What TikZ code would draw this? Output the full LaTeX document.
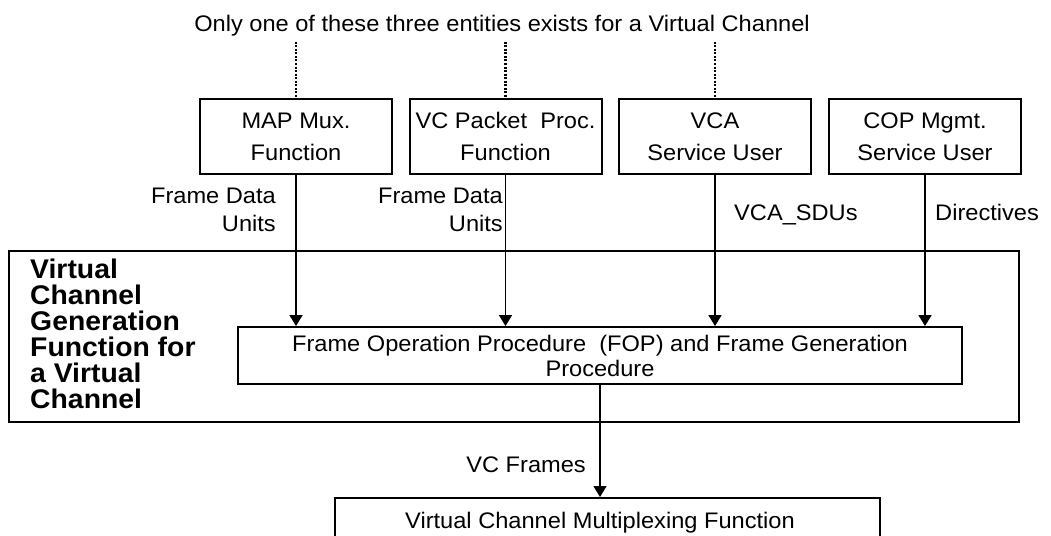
\documentclass[tikz,border=0pt]{standalone}
\usepackage{fontspec}
\setmainfont{Liberation Sans}[FakeStretch=1.05]
\usetikzlibrary{arrows.meta}
\begin{document}
\begin{tikzpicture}[x=1pt,y=-1pt,
  every node/.style={font=\fontsize{22.5}{32}\selectfont, inner sep=0pt},
  ubox/.style={draw, line width=2pt, minimum width=192, minimum height=75, align=center},
  bigbox/.style={draw, line width=1.9pt},
  arr/.style={line width=1.6pt, -{Triangle[width=13pt,length=11pt]}},
  dotline/.style={line width=2.2pt, dash pattern=on 2pt off 1.5pt},
  lbl/.style={align=right, font=\fontsize{22.5}{28}\selectfont}
]
\useasboundingbox (0,0) rectangle (1051,535);
\fill[white] (0,0) rectangle (1051,535);

\node[anchor=base] (note) at (502,32) {Only one of these three entities exists for a Virtual Channel};

\node[ubox] (map) at (296,136.5) {MAP Mux.\\Function};
\node[ubox] (vcp) at (505.5,136.5) {VC Packet\ \ Proc.\\Function};
\node[ubox] (vca) at (715,136.5) {VCA\\Service User};
\node[ubox] (cop) at (925,136.5) {COP Mgmt.\\Service User};

\node[bigbox, minimum width=1010, minimum height=171] (vcg) at (514,336.5) {};
\node[anchor=north west, align=left, font=\bfseries\fontsize{27}{26}\selectfont] (title) at (30,259)
  {Virtual\\Channel\\Generation\\Function for\\a Virtual\\Channel};

\node[bigbox, minimum width=724, minimum height=57, align=center, font=\fontsize{22.5}{25}\selectfont] (fop) at (600,355.5)
  {Frame Operation Procedure\ \ (FOP) and Frame Generation\\Procedure};

\node[bigbox, minimum width=545, minimum height=80, anchor=north west] (vcm) at (334,497) {};
\node[anchor=base] (vcmtext) at (600,528) {Virtual Channel Multiplexing Function};

% dotted lines
\coordinate (t1) at (296,42);
\coordinate (t2) at (505.5,42);
\coordinate (t3) at (715,42);
\draw[dotline] (t1) -- (map.north);
\draw[dotline] (t2) -- (vcp.north);
\draw[dotline] (t3) -- (vca.north);

% arrows
\draw[arr] (map.south) -- (map.south |- fop.north);
\draw[arr] (vcp.south) -- (vcp.south |- fop.north);
\draw[arr] (vca.south) -- (vca.south |- fop.north);
\draw[arr] (cop.south) -- (cop.south |- fop.north);
\draw[arr] (fop.south) -- (fop.south |- vcm.north);

% labels
\node[lbl, anchor=north east] (l1) at (276,187.5) {Frame Data\\Units};
\node[lbl, anchor=north east] (l2) at (503,187.5) {Frame Data\\Units};
\node[anchor=base west] (l3) at (734,220) {VCA\_SDUs};
\node[anchor=base west] (l4) at (935,220) {Directives};
\node[anchor=base east] (l5) at (586,472) {VC Frames};
\end{tikzpicture}
\end{document}
